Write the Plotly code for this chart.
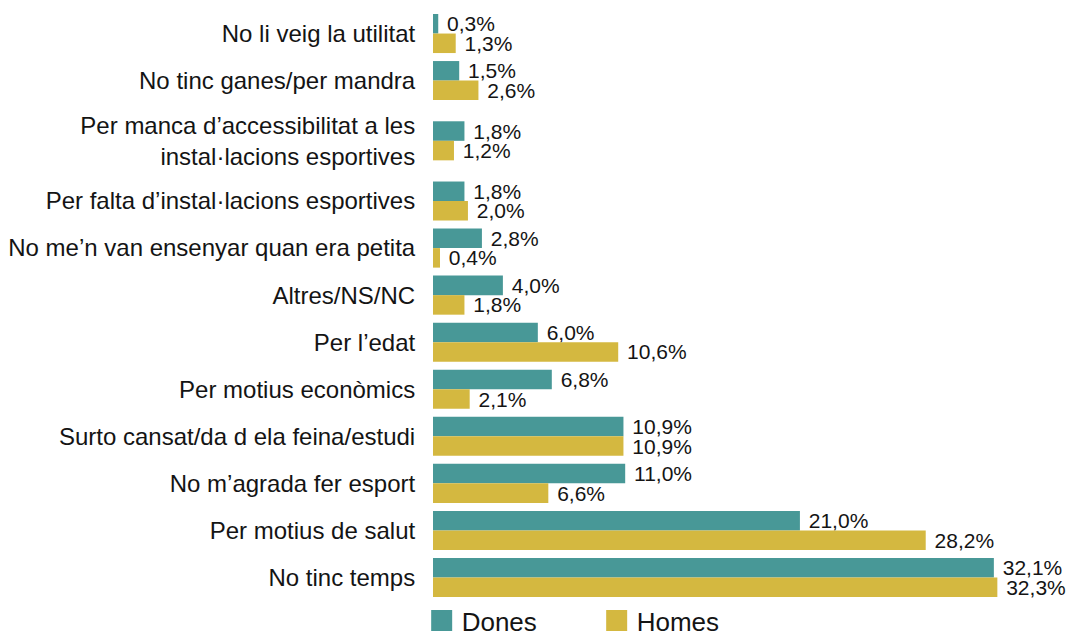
import plotly.graph_objects as go

# Motius per no fer esport, per sexe (%)
categories = [
    "No li veig la utilitat",
    "No tinc ganes/per mandra",
    "Per manca d\u2019accessibilitat a les<br>instal\u00b7lacions esportives",
    "Per falta d\u2019instal\u00b7lacions esportives",
    "No me\u2019n van ensenyar quan era petita",
    "Altres/NS/NC",
    "Per l\u2019edat",
    "Per motius econ\u00f2mics",
    "Surto cansat/da d ela feina/estudi",
    "No m\u2019agrada fer esport",
    "Per motius de salut",
    "No tinc temps",
]
dones = [0.3, 1.5, 1.8, 1.8, 2.8, 4.0, 6.0, 6.8, 10.9, 11.0, 21.0, 32.1]
homes = [1.3, 2.6, 1.2, 2.0, 0.4, 1.8, 10.6, 2.1, 10.9, 6.6, 28.2, 32.3]
series_names = ["Dones", "Homes"]

TEAL = "#489897"
GOLD = "#D4B840"
TEXT = "#141414"
FONT = "Liberation Sans, Arial, Helvetica, sans-serif"

# Row positions: two-line labels get a little extra room around them
positions = []
y = 0.0
for i, cat in enumerate(categories):
    if "<br>" in cat and i > 0:
        y += 0.28
    positions.append(y)
    y += 1.28 if "<br>" in cat else 1.0

fig = go.Figure()
for name, vals, color in [(series_names[0], dones, TEAL), (series_names[1], homes, GOLD)]:
    fig.add_trace(go.Bar(
        x=vals, y=positions, orientation="h", name=name,
        marker=dict(color=color, line=dict(width=0)),
        text=[f"{v:.1f}".replace(".", ",") + "%" for v in vals],
        textposition="outside", constraintext="none", cliponaxis=False,
        textfont=dict(size=21, color=TEXT, family=FONT),
        texttemplate=" %{text}",
        showlegend=False, hoverinfo="skip",
    ))
    # legend entry with a larger square swatch
    fig.add_trace(go.Scatter(
        x=[None], y=[None], mode="markers", name=name,
        marker=dict(symbol="square", size=16, color=color,
                    line=dict(color=color, width=5)),
    ))

fig.update_layout(
    width=1074, height=634,
    margin=dict(l=433, r=12, t=10, b=33, autoexpand=False),
    paper_bgcolor="white", plot_bgcolor="white",
    barmode="group", bargap=0.17, bargroupgap=0,
    font=dict(family=FONT, color=TEXT),
    xaxis=dict(range=[0, 36], visible=False),
    yaxis=dict(
        range=[positions[-1] + 0.5, -0.5],
        tickvals=positions, ticktext=categories,
        tickfont=dict(size=24, color=TEXT, family=FONT),
        ticks="outside", ticklen=12, tickcolor="rgba(0,0,0,0)",
        showgrid=False, zeroline=False, showline=False,
    ),
    legend=dict(
        orientation="h", x=-0.018, xanchor="left",
        yref="container", y=0.021, yanchor="middle",
        font=dict(size=26, color=TEXT, family=FONT),
        entrywidth=130, itemwidth=30, bgcolor="rgba(0,0,0,0)",
    ),
)

fig.write_html("out.html")
